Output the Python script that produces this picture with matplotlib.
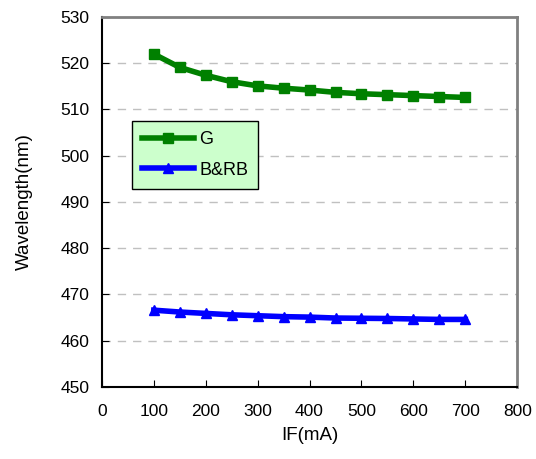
import matplotlib.pyplot as plt

plt.rcParams['font.family'] = ['Liberation Sans', 'DejaVu Sans']

current = [100, 150, 200, 250, 300, 350, 400, 450, 500, 550, 600, 650, 700]
green = [522.0, 519.1, 517.4, 516.0, 515.1, 514.6, 514.2, 513.7, 513.4, 513.2, 513.0, 512.8, 512.6]
blue = [466.6, 466.2, 465.9, 465.6, 465.4, 465.2, 465.1, 464.9, 464.85, 464.8, 464.7, 464.6, 464.6]

fig = plt.figure(figsize=(5.36, 4.59), dpi=100)
ax = fig.add_axes([0.19, 0.157, 0.775, 0.806])

ax.plot(current, green, color='#008000', marker='s', markersize=7, linewidth=4, label='G')
ax.plot(current, blue, color='#0000ff', marker='^', markersize=7, linewidth=4, label='B&RB')

ax.set_xlim(0, 800)
ax.set_ylim(450, 530)
ax.set_xticks(range(0, 801, 100))
ax.set_yticks(range(450, 531, 10))
ax.tick_params(direction='in', labelsize=12.5, length=5)
ax.tick_params(axis='x', pad=12)
ax.tick_params(axis='y', pad=9)
ax.yaxis.grid(True, linestyle=(0, (6, 5)), color='#c0c0c0', linewidth=1)
ax.set_axisbelow(True)

for s in ['top', 'right']:
    ax.spines[s].set_color('#808080')
    ax.spines[s].set_linewidth(2)
for s in ['left', 'bottom']:
    ax.spines[s].set_linewidth(1.5)

ax.set_xlabel('IF(mA)', fontsize=13.5, labelpad=6)
ax.set_ylabel('Wavelength(nm)', fontsize=13.5, labelpad=20)

leg = ax.legend(loc='upper left', bbox_to_anchor=(0.072, 0.718), fontsize=13,
                fancybox=False, framealpha=1, facecolor='#ccffcc', edgecolor='black',
                handlelength=2.9, borderpad=0.55, handletextpad=0.3, labelspacing=0.75,
                borderaxespad=0)
leg.get_frame().set_linewidth(1)

fig.savefig('out.png', dpi=100)
